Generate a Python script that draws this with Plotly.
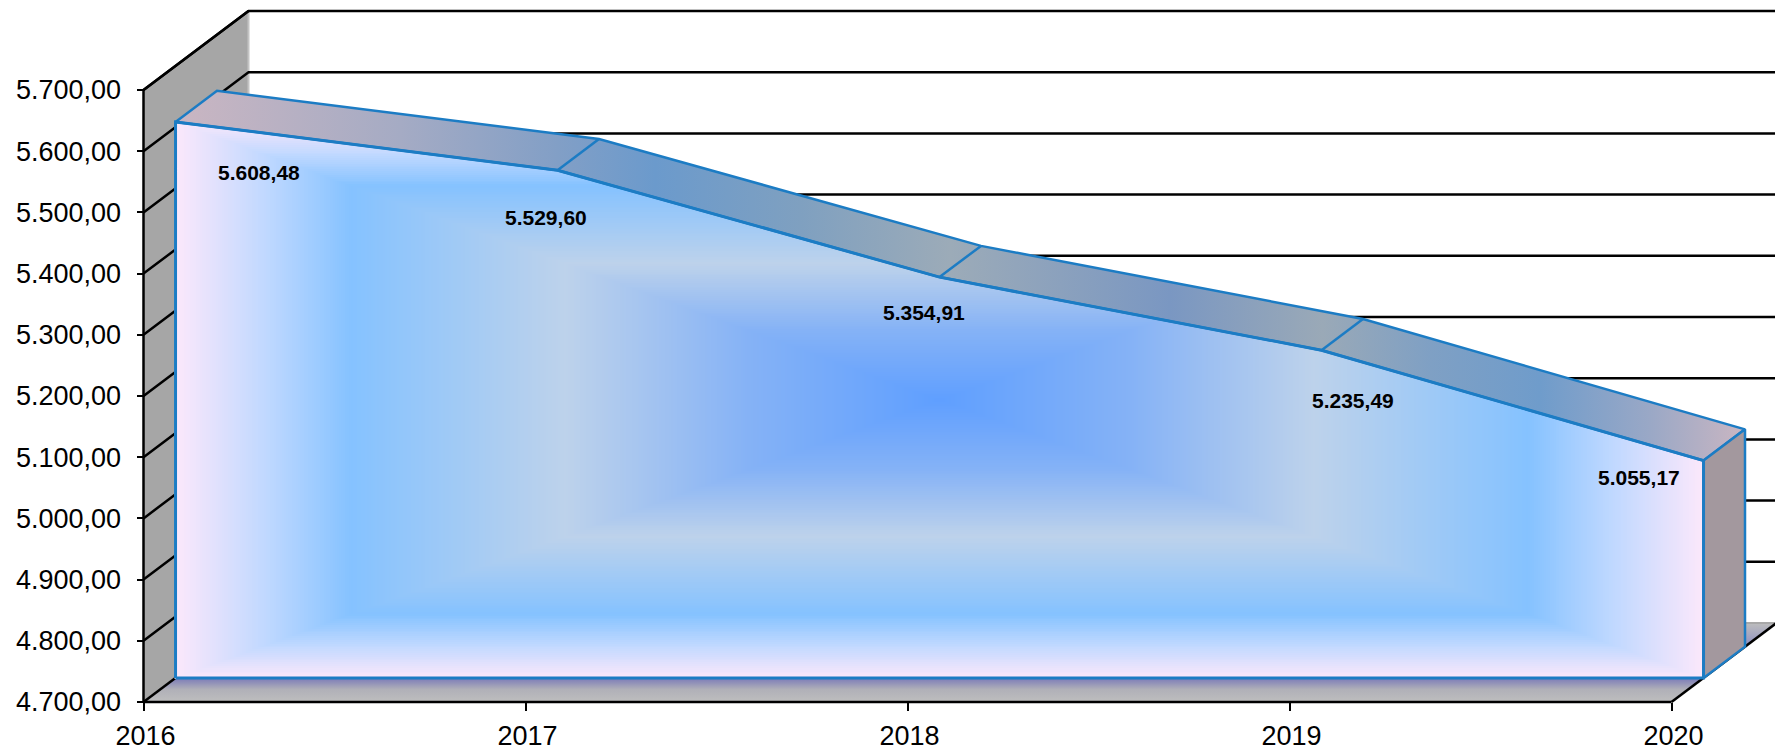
import numpy as np
import plotly.graph_objects as go

# ---- data ----
years = [2016, 2017, 2018, 2019, 2020]
values = [5608.48, 5529.60, 5354.91, 5235.49, 5055.17]
y_ticks = [4700, 4800, 4900, 5000, 5100, 5200, 5300, 5400, 5500, 5600, 5700]

W, H = 1775, 750
PX_YEAR = 382.0          # px per category
PX_VAL = 0.612           # px per value unit
X0_PX, Y0_PX = 143.5, 702.0
DEPTH_X = 105 / PX_YEAR  # full chart depth in x units
DEPTH_Y = 79 / PX_VAL    # full chart depth in y units
D_FRONT, D_BACK = 0.305, 0.70
BASE = y_ticks[0]
TOP = y_ticks[-1]

x_range = [years[0] - X0_PX / PX_YEAR, years[0] + (W - X0_PX) / PX_YEAR]
y_range = [BASE - (H - Y0_PX) / PX_VAL, BASE + Y0_PX / PX_VAL]


def px(x, d=0.0):
    return np.asarray(x, float) + d * DEPTH_X


def py(y, d=0.0):
    return np.asarray(y, float) + d * DEPTH_Y


BLACK = "#000000"
BLUE = "#1C7CC4"
fig = go.Figure()


def poly(xs, ys, fill=None, line=None, lw=2, grad=None, axes="", closed=True):
    kw = dict(x=list(xs), y=list(ys), mode="lines" if line else "none",
              hoverinfo="skip", showlegend=False,
              xaxis="x" + axes, yaxis="y" + axes)
    if line:
        kw["line"] = dict(color=line, width=lw)
    if grad:
        kw["fill"] = "toself"
        kw["fillgradient"] = grad
    elif fill:
        kw["fill"] = "toself"
        kw["fillcolor"] = fill
    fig.add_trace(go.Scatter(**kw))


x_l, x_r = years[0], years[-1]
# left wall
poly([x_l, px(x_l, 1), px(x_l, 1), x_l, x_l],
     [BASE, py(BASE, 1), py(TOP, 1), TOP, BASE], fill="#A6A6A6")
poly([px(x_l, 1), px(x_l, 1)], [py(BASE, 1), py(TOP, 1)], line="#C4C4C4", lw=2)

# floor
f_lo, f_hi = py(BASE, 0), py(BASE, 1)
poly([x_l, x_r, px(x_r, 1), px(x_l, 1), x_l],
     [BASE, BASE, py(BASE, 1), py(BASE, 1), BASE],
     grad=dict(type="vertical", start=f_lo, stop=f_hi,
               colorscale=[[0, "#BEBEBE"], [0.16, "#B0B0B8"], [0.31, "#7878B8"],
                           [0.68, "#8A8CC2"], [1, "#BDBDBD"]]))
poly([px(x_l, 1), x_range[1] + 1], [py(BASE, 1), py(BASE, 1)], line="#A8A8A8", lw=2)
poly([x_l, px(x_l, 1)], [BASE, py(BASE, 1)], line=BLACK, lw=2.5)
poly([x_r, px(x_r, 1)], [BASE, py(BASE, 1)], line=BLACK, lw=2.5)

# grid lines: side wall + back wall
for v in y_ticks[1:]:
    poly([x_l, px(x_l, 1), x_range[1] + 1], [v, py(v, 1), py(v, 1)], line=BLACK, lw=2.5)

# axis lines
poly([x_l, x_l], [BASE, TOP], line=BLACK, lw=2.5)
poly([x_l, x_r], [BASE, BASE], line=BLACK, lw=2.5)

# ---- gradient front face ----
nx, ny = 770, 300
gx = np.linspace(px(x_l, D_FRONT), px(x_r, D_FRONT), nx)
gy = np.linspace(py(BASE, D_FRONT), py(max(values), D_FRONT), ny)
top_line = np.interp(gx, px(years, D_FRONT), py(values, D_FRONT))
u = np.abs(gx - gx.mean()) / ((gx[-1] - gx[0]) / 2)
v = np.abs(gy - gy.mean()) / ((gy[-1] - gy[0]) / 2)
uu, vv = np.meshgrid(u, v)
z = np.maximum(uu, vv)
yy = np.meshgrid(gx, gy)[1]
xx_top = np.meshgrid(top_line, gy)[0]
z[yy > xx_top] = np.nan
fig.add_trace(go.Heatmap(
    x=gx, y=gy, z=z, zmin=0, zmax=1, showscale=False, hoverinfo="skip",
    xaxis="x2", yaxis="y2",
    colorscale=[[0, "#5F9FFF"], [0.25, "#85B2F6"], [0.49, "#BDD2EB"],
                [0.77, "#85C2FF"], [0.88, "#BFD8FF"], [1, "#FCE8FB"]]))

# top strip
st_x0, st_x1 = px(x_l, D_FRONT), px(x_r, D_BACK)
stops_px = [(0, "#CAB6C2"), (225, "#A5ABC4"), (382, "#829FC6"), (480, "#6B9ACC"),
            (625, "#7FA0C0"), (775, "#9CABB8"), (995, "#7A97C2"), (1147, "#9AA9B7"),
            (1255, "#7FA0C4"), (1365, "#6F9CCB"), (1475, "#9AA8C6"), (1570, "#CAB6C2")]
strip_scale = [[p / 1570, c] for p, c in stops_px]
sx = list(px(years, D_FRONT)) + list(px(years, D_BACK))[::-1]
sy = list(py(values, D_FRONT)) + list(py(values, D_BACK))[::-1]
poly(sx + sx[:1], sy + sy[:1], line=BLUE, lw=2.5, axes="2",
     grad=dict(type="horizontal", start=st_x0, stop=st_x1, colorscale=strip_scale))
for yr, val in zip(years[1:-1], values[1:-1]):
    poly([px(yr, D_FRONT), px(yr, D_BACK)], [py(val, D_FRONT), py(val, D_BACK)],
         line=BLUE, lw=2.5, axes="2")

# right end face
ex = [px(x_r, D_FRONT), px(x_r, D_BACK), px(x_r, D_BACK), px(x_r, D_FRONT)]
ey = [py(values[-1], D_FRONT), py(values[-1], D_BACK), py(BASE, D_BACK), py(BASE, D_FRONT)]
poly(ex + ex[:1], ey + ey[:1], fill="#A3989E", line=BLUE, lw=2.5, axes="2")

# front face outline
fx = [px(x_l, D_FRONT)] + list(px(years, D_FRONT)) + [px(x_r, D_FRONT), px(x_l, D_FRONT)]
fy = [py(BASE, D_FRONT)] + list(py(values, D_FRONT)) + [py(BASE, D_FRONT), py(BASE, D_FRONT)]
poly(fx, fy, line=BLUE, lw=3, axes="2")

poly([x_l, px(x_l, 1)], [TOP, py(TOP, 1)], line=BLACK, lw=2.5)

# data labels
shifts = [(83, -51), (-12, -47), (-16, -35), (31, -50), (-65, -17)]
for yr, val, (sxp, syp) in zip(years, values, shifts):
    txt = f"{val:,.2f}".replace(",", "#").replace(".", ",").replace("#", ".")
    fig.add_annotation(x=float(px(yr, D_FRONT)), y=float(py(val, D_FRONT)), xref="x2", yref="y2",
                       text=f"<b>{txt}</b>", showarrow=False, xshift=sxp, yshift=syp,
                       font=dict(family="Liberation Sans", size=21, color=BLACK))

fig.update_layout(
    width=W, height=H, margin=dict(l=0, r=0, t=0, b=0), autosize=False,
    paper_bgcolor="white", plot_bgcolor="white", showlegend=False,
    separators=",.",
    font=dict(family="Liberation Sans", color="#000000", size=27),
    xaxis=dict(range=x_range, domain=[0, 1], anchor="free", position=(H - Y0_PX) / H,
               automargin=False,
               tickmode="array", tickvals=years, ticktext=[str(y) for y in years],
               showgrid=False, zeroline=False, showline=False,
               ticks="outside", ticklen=8, tickwidth=1.5, tickcolor=BLACK,
               tickfont=dict(size=27), ticklabelstandoff=2, ticklabelshift=2),
    yaxis=dict(range=y_range, domain=[0, 1], anchor="free", position=X0_PX / W,
               automargin=False,
               tickmode="array", tickvals=y_ticks, tickformat=",.2f",
               showgrid=False, zeroline=False, showline=False,
               ticks="outside", ticklen=7, tickwidth=1.5, tickcolor=BLACK,
               tickfont=dict(size=27), ticklabelstandoff=10),
    xaxis2=dict(range=x_range, overlaying="x", visible=False, anchor="y2", automargin=False),
    yaxis2=dict(range=y_range, overlaying="y", visible=False, anchor="x2", automargin=False),
)

fig.write_html("out.html", config=dict(displayModeBar=False),
               post_script="document.body.style.margin='0';document.body.style.overflow='hidden';")
